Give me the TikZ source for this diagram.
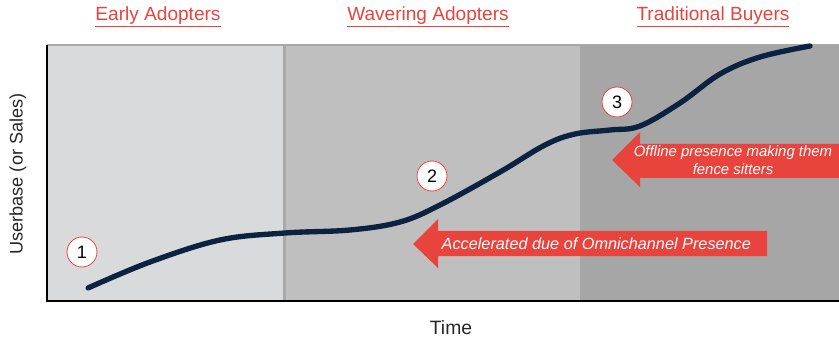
\documentclass[tikz,border=0pt]{standalone}
\usepackage{fontspec}
\setmainfont{Liberation Sans}
\definecolor{pone}{HTML}{D9DADC}
\definecolor{ptwo}{HTML}{BFBFBF}
\definecolor{pthree}{HTML}{A6A6A6}
\definecolor{sepc}{HTML}{A8A8A8}
\definecolor{navy}{HTML}{0B2240}
\definecolor{redc}{HTML}{E8433D}
\definecolor{axtext}{HTML}{262626}
\begin{document}
\begin{tikzpicture}[x=0.75pt,y=-0.75pt,
  hdr/.style={text=redc,font=\fontsize{14.3}{16}\selectfont},
  num/.style={circle,draw=redc,line width=0.6pt,fill=white,minimum size=22.5pt,inner sep=0pt,font=\fontsize{13.5}{15}\selectfont},
  arrtext/.style={text=white,font=\fontsize{12.2}{13.5}\selectfont\itshape},
  axlab/.style={text=axtext,font=\fontsize{13.6}{15}\selectfont}]
\useasboundingbox (0,0) rectangle (839,342);
% panels
\fill[pone] (47,45) rectangle (284,301);
\fill[ptwo] (284,45) rectangle (580,301);
\fill[pthree] (580,45) rectangle (839,301);
\fill[sepc] (283,45) rectangle (286,301);
\draw[sepc,line width=1.5pt] (47,45.5) -- (839,45.5);
% axes
\draw[black,line width=1.5pt] (47,45) -- (47,301) -- (839,301);
% headers
\node[hdr] (h1) at (158,17) {\underline{Early Adopters}};
\node[hdr] (h2) at (428,17) {\underline{Wavering Adopters}};
\node[hdr] (h3) at (713,17) {\underline{Traditional Buyers}};
% axis labels
\node[axlab,rotate=90] (ylab) at (18,174) {Userbase (or Sales)};
\node[axlab,font=\fontsize{14.5}{16}\selectfont] (xlab) at (451,328) {Time};
% arrows
\fill[redc] (413,244) -- (438,219) -- (438,231) -- (767,231) -- (767,256) -- (438,256) -- (438,268) -- cycle;
\node[arrtext,anchor=west] (a1) at (437,244) {Accelerated due of Omnichannel Presence};
\fill[redc] (612,160) -- (640,132) -- (640,144) -- (839,144) -- (839,178) -- (640,178) -- (640,187) -- cycle;
\node[arrtext,font=\fontsize{11.2}{13.5}\selectfont\itshape,align=center,inner sep=0pt] (a2) at (733,160) {Offline presence making them\\fence sitters};
% curve
\draw[navy,line width=4pt,line cap=round] plot[smooth,tension=0.6] coordinates {
 (88,288) (150,262) (220,240) (285,233) (350,230) (400,222) (440,205) (500,172) (545,145) (575,134) (610,130) (640,126) (680,103) (720,74) (760,57) (810,46)};
% numbers
\node[num] (n1) at (82,252) {1};
\node[num] (n2) at (432,176) {2};
\node[num] (n3) at (617,102) {3};
\end{tikzpicture}
\end{document}
